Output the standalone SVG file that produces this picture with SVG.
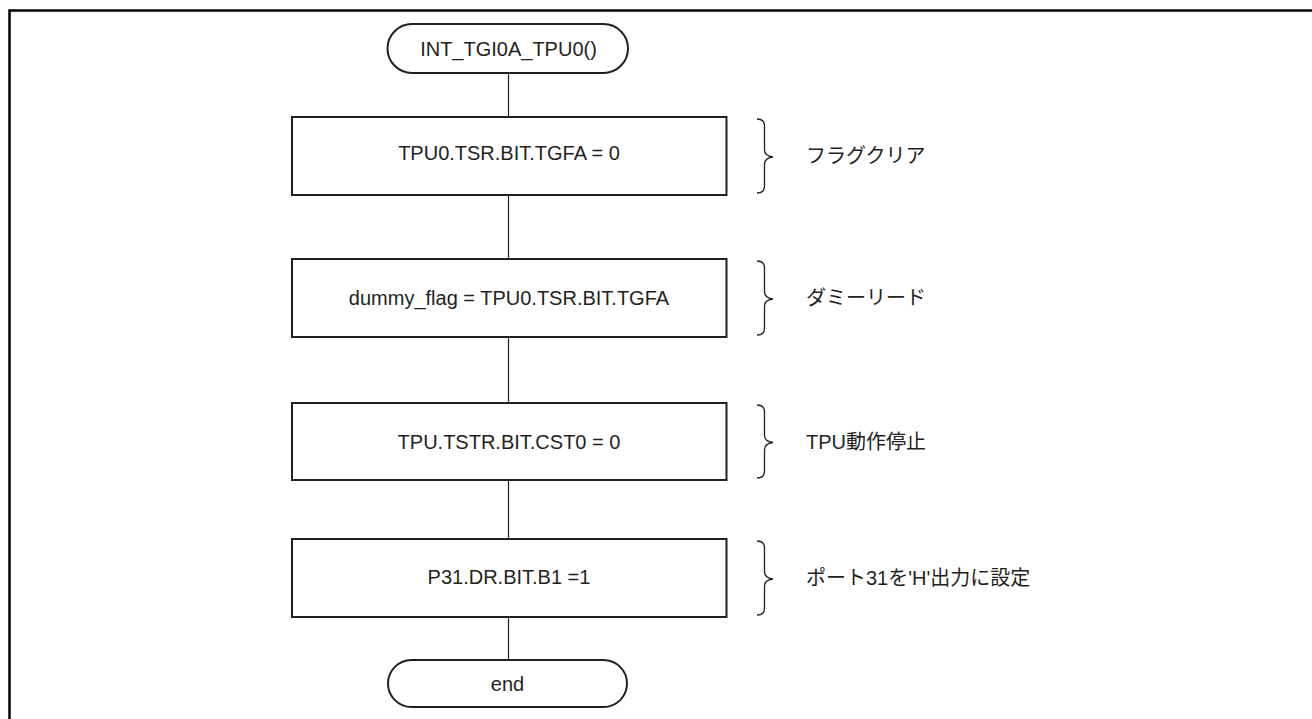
<svg xmlns="http://www.w3.org/2000/svg" width="1312" height="719" viewBox="0 0 1312 719">
<style>
.frame{fill:none;stroke:#000;stroke-width:2.5}
.box{fill:#fff;stroke:#231f20;stroke-width:2}
.term{fill:#fff;stroke:#231f20;stroke-width:2}
.conn{stroke:#231f20;stroke-width:1.2;fill:none}
.brace{stroke:#231f20;stroke-width:1.3;fill:none}
.t{font-family:"Liberation Sans",Arial,sans-serif;font-size:20px;fill:#231f20;text-anchor:middle}
.lbl{font-family:"Liberation Sans","Noto Sans CJK JP",sans-serif;font-size:20px;fill:#231f20}
</style>
<rect width="1312" height="719" fill="#fff"/>
<path class="frame" d="M9.5,725 V10.5 H1320"/>
<g id="connectors">
<line class="conn" x1="508.5" y1="73" x2="508.5" y2="117"/>
<line class="conn" x1="508.5" y1="195" x2="508.5" y2="259"/>
<line class="conn" x1="508.5" y1="337" x2="508.5" y2="403"/>
<line class="conn" x1="508.5" y1="480" x2="508.5" y2="539"/>
<line class="conn" x1="508.5" y1="617" x2="508.5" y2="660"/>
</g>
<g id="start">
<rect class="term" x="387.5" y="24" width="240.5" height="49" rx="24.5" ry="24.5"/>
<text class="t" x="508.5" y="56">INT_TGI0A_TPU0()</text>
</g>
<g id="step1">
<rect class="box" x="292" y="117" width="434.5" height="78"/>
<text class="t" x="509" y="160">TPU0.TSR.BIT.TGFA = 0</text>
</g>
<g id="step2">
<rect class="box" x="292" y="259" width="434.5" height="78"/>
<text class="t" x="509" y="305">dummy_flag = TPU0.TSR.BIT.TGFA</text>
</g>
<g id="step3">
<rect class="box" x="292" y="403" width="434.5" height="77"/>
<text class="t" x="509" y="448.5">TPU.TSTR.BIT.CST0 = 0</text>
</g>
<g id="step4">
<rect class="box" x="292" y="539" width="434.5" height="78"/>
<text class="t" x="509" y="584">P31.DR.BIT.B1 =1</text>
</g>
<g id="end">
<rect class="term" x="388" y="660" width="239" height="47" rx="23.5" ry="23.5"/>
<text class="t" x="507.5" y="691">end</text>
</g>
<g id="note1">
<path class="brace" d="M757,119 Q764.5,119 764.5,126 V150 Q764.5,156 773,157 Q764.5,158 764.5,164 V186 Q764.5,193 757,193"/>
<text class="lbl" x="806" y="163">フラグクリア</text>
</g>
<g id="note2">
<path class="brace" d="M757,261 Q764.5,261 764.5,268 V292 Q764.5,298 773,299 Q764.5,300 764.5,306 V328 Q764.5,335 757,335"/>
<text class="lbl" x="806" y="305">ダミーリード</text>
</g>
<g id="note3">
<path class="brace" d="M757,405 Q764.5,405 764.5,412 V435.5 Q764.5,441.5 773,442.5 Q764.5,443.5 764.5,449.5 V471 Q764.5,478 757,478"/>
<text class="lbl" x="806" y="449">TPU動作停止</text>
</g>
<g id="note4">
<path class="brace" d="M757,541 Q764.5,541 764.5,548 V572 Q764.5,578 773,579 Q764.5,580 764.5,586 V608 Q764.5,615 757,615"/>
<text class="lbl" x="806" y="585">ポート31を'H'出力に設定</text>
</g>
</svg>
